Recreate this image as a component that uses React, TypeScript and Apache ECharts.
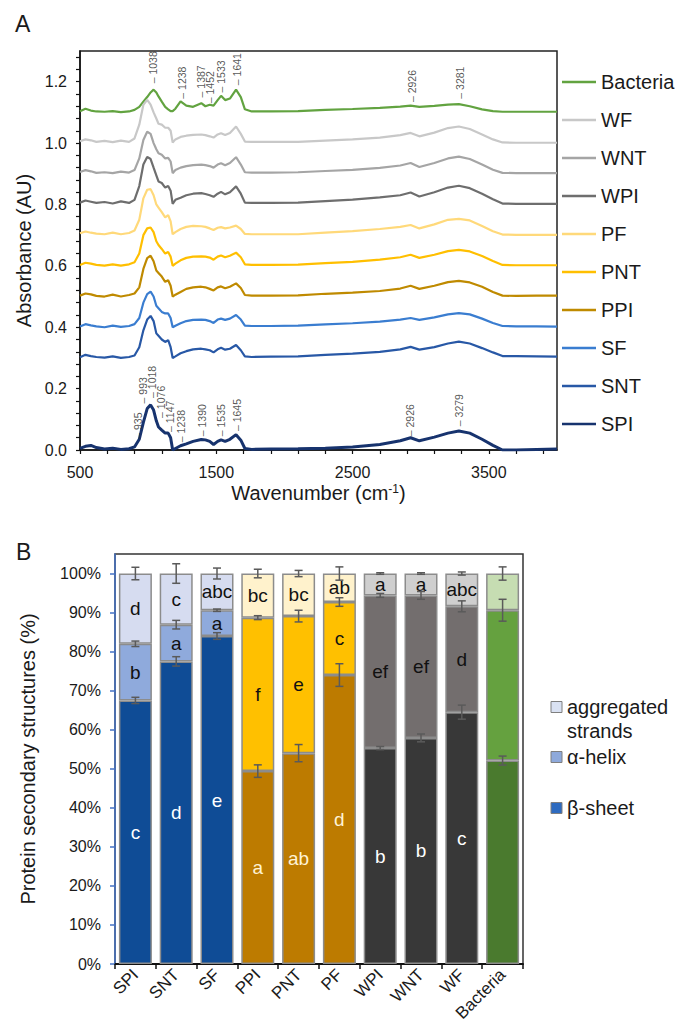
import { useEffect, useRef } from "react";
import * as echarts from "echarts";

// ---------- Panel A: FTIR spectra ----------
const wavenumbers = [500, 540, 580, 620, 680, 740, 800, 860, 900, 935, 965, 993, 1018, 1040, 1060, 1076, 1100, 1125, 1147, 1165, 1180, 1200, 1238, 1280, 1330, 1390, 1420, 1452, 1480, 1510, 1535, 1565, 1600, 1645, 1680, 1710, 1760, 1900, 2100, 2300, 2500, 2700, 2850, 2926, 2990, 3100, 3200, 3280, 3360, 3450, 3530, 3600, 3700, 3850, 4000];

const absSPI = [0.005, 0.012, 0.015, 0.008, 0.003, 0.006, 0.002, 0.004, 0.010, 0.035, 0.090, 0.135, 0.147, 0.130, 0.095, 0.075, 0.065, 0.055, 0.055, 0.040, 0.000, 0.005, 0.014, 0.020, 0.028, 0.034, 0.033, 0.028, 0.018, 0.028, 0.033, 0.028, 0.035, 0.050, 0.032, 0.005, 0.002, 0.003, 0.004, 0.006, 0.010, 0.018, 0.030, 0.040, 0.030, 0.042, 0.055, 0.062, 0.055, 0.035, 0.015, 0.000, 0.000, 0.002, 0.003];
const absSNT = [0.302, 0.310, 0.306, 0.303, 0.301, 0.305, 0.300, 0.303, 0.308, 0.335, 0.390, 0.425, 0.437, 0.420, 0.380, 0.372, 0.360, 0.352, 0.358, 0.335, 0.300, 0.305, 0.315, 0.322, 0.328, 0.330, 0.328, 0.325, 0.318, 0.328, 0.333, 0.327, 0.330, 0.342, 0.325, 0.305, 0.303, 0.304, 0.305, 0.310, 0.314, 0.320, 0.328, 0.336, 0.327, 0.335, 0.347, 0.353, 0.347, 0.332, 0.318, 0.306, 0.306, 0.305, 0.304];
const absSF = [0.402, 0.410, 0.406, 0.403, 0.400, 0.405, 0.401, 0.404, 0.410, 0.430, 0.480, 0.508, 0.516, 0.500, 0.470, 0.462, 0.450, 0.445, 0.445, 0.430, 0.400, 0.405, 0.413, 0.420, 0.424, 0.425, 0.424, 0.420, 0.414, 0.425, 0.428, 0.424, 0.428, 0.440, 0.425, 0.405, 0.404, 0.404, 0.405, 0.409, 0.413, 0.418, 0.425, 0.430, 0.424, 0.432, 0.442, 0.446, 0.442, 0.428, 0.414, 0.404, 0.403, 0.403, 0.402];
const absPPI = [0.503, 0.510, 0.507, 0.502, 0.500, 0.506, 0.500, 0.505, 0.510, 0.530, 0.590, 0.625, 0.633, 0.615, 0.585, 0.577, 0.565, 0.548, 0.553, 0.535, 0.500, 0.506, 0.515, 0.525, 0.530, 0.532, 0.530, 0.525, 0.520, 0.530, 0.533, 0.527, 0.532, 0.543, 0.528, 0.505, 0.503, 0.503, 0.504, 0.509, 0.513, 0.518, 0.526, 0.535, 0.525, 0.535, 0.547, 0.551, 0.546, 0.532, 0.515, 0.503, 0.502, 0.503, 0.503];
const absPNT = [0.603, 0.610, 0.607, 0.603, 0.601, 0.605, 0.601, 0.605, 0.612, 0.640, 0.700, 0.722, 0.725, 0.710, 0.680, 0.668, 0.655, 0.640, 0.645, 0.630, 0.600, 0.607, 0.618, 0.626, 0.630, 0.631, 0.630, 0.627, 0.620, 0.630, 0.634, 0.628, 0.633, 0.643, 0.628, 0.605, 0.603, 0.603, 0.604, 0.609, 0.613, 0.620, 0.628, 0.636, 0.626, 0.636, 0.648, 0.652, 0.647, 0.632, 0.616, 0.603, 0.602, 0.602, 0.602];
const absPF = [0.706, 0.712, 0.708, 0.705, 0.703, 0.708, 0.703, 0.707, 0.715, 0.750, 0.820, 0.848, 0.850, 0.830, 0.800, 0.790, 0.775, 0.758, 0.765, 0.745, 0.703, 0.710, 0.720, 0.727, 0.730, 0.729, 0.727, 0.722, 0.717, 0.724, 0.726, 0.722, 0.725, 0.731, 0.720, 0.704, 0.703, 0.703, 0.703, 0.708, 0.713, 0.720, 0.727, 0.733, 0.722, 0.735, 0.750, 0.753, 0.748, 0.730, 0.713, 0.702, 0.701, 0.701, 0.701];
const absWPI = [0.806, 0.813, 0.809, 0.805, 0.808, 0.803, 0.810, 0.805, 0.815, 0.860, 0.930, 0.955, 0.948, 0.920, 0.895, 0.875, 0.870, 0.855, 0.860, 0.845, 0.802, 0.815, 0.822, 0.830, 0.835, 0.837, 0.834, 0.830, 0.825, 0.835, 0.841, 0.833, 0.840, 0.859, 0.835, 0.806, 0.805, 0.805, 0.806, 0.811, 0.816, 0.823, 0.830, 0.839, 0.826, 0.840, 0.855, 0.861, 0.853, 0.835, 0.817, 0.803, 0.802, 0.802, 0.802];
const absWNT = [0.906, 0.912, 0.908, 0.903, 0.905, 0.902, 0.907, 0.904, 0.912, 0.950, 1.010, 1.037, 1.030, 1.000, 0.980, 0.967, 0.962, 0.950, 0.952, 0.940, 0.902, 0.912, 0.920, 0.925, 0.928, 0.930, 0.928, 0.925, 0.920, 0.930, 0.934, 0.928, 0.935, 0.954, 0.930, 0.905, 0.904, 0.904, 0.905, 0.909, 0.913, 0.919, 0.927, 0.935, 0.922, 0.935, 0.950, 0.956, 0.948, 0.930, 0.913, 0.903, 0.902, 0.902, 0.902];
const absWF = [1.006, 1.012, 1.009, 1.004, 1.007, 1.003, 1.008, 1.004, 1.015, 1.060, 1.125, 1.141, 1.125, 1.100, 1.080, 1.063, 1.060, 1.050, 1.050, 1.040, 1.002, 1.012, 1.020, 1.024, 1.027, 1.028, 1.026, 1.022, 1.018, 1.028, 1.032, 1.026, 1.033, 1.054, 1.030, 1.005, 1.004, 1.004, 1.004, 1.008, 1.012, 1.018, 1.026, 1.033, 1.022, 1.034, 1.049, 1.054, 1.046, 1.028, 1.012, 1.002, 1.001, 1.001, 1.001];
const absBacteria = [1.104, 1.112, 1.106, 1.103, 1.102, 1.104, 1.101, 1.103, 1.108, 1.118, 1.135, 1.150, 1.165, 1.174, 1.165, 1.152, 1.135, 1.118, 1.110, 1.104, 1.104, 1.112, 1.136, 1.122, 1.118, 1.130, 1.120, 1.125, 1.122, 1.140, 1.154, 1.140, 1.145, 1.174, 1.150, 1.110, 1.103, 1.103, 1.104, 1.108, 1.111, 1.115, 1.119, 1.122, 1.118, 1.121, 1.125, 1.127, 1.120, 1.110, 1.104, 1.102, 1.102, 1.102, 1.102];

const spectrumNames = ["Bacteria", "WF", "WNT", "WPI", "PF", "PNT", "PPI", "SF", "SNT", "SPI"];
const spectrumValues = [absBacteria, absWF, absWNT, absWPI, absPF, absPNT, absPPI, absSF, absSNT, absSPI];

// peak annotations (label anchor wavenumber, absorbance, text)
const bacteriaPeakLabels = ["1038", "1238", "1387", "1452", "1533", "1641", "2926", "3281"];
const bacteriaPeakX = [1038, 1246, 1388, 1454, 1534, 1652, 2933, 3288];
const bacteriaPeakY = [1.193, 1.143, 1.147, 1.128, 1.163, 1.187, 1.132, 1.143];
const spiPeakLabels = ["935", "993", "1018", "1076", "1147", "1238", "1390", "1535", "1645", "2926", "3279"];
const spiPeakX = [925, 959, 1026, 1092, 1160, 1241, 1393, 1535, 1652, 2921, 3283];
const spiPeakY = [0.035, 0.150, 0.168, 0.103, 0.057, 0.024, 0.043, 0.043, 0.060, 0.043, 0.076];

const absLabelValues = [0, 0.2, 0.4, 0.6, 0.8, 1.0, 1.2];
const absTickValues = [0, 0.04, 0.08, 0.12, 0.16, 0.2, 0.24, 0.28, 0.32, 0.36, 0.4, 0.44, 0.48, 0.52, 0.56, 0.6, 0.64, 0.68, 0.72, 0.76, 0.8, 0.84, 0.88, 0.92, 0.96, 1.0, 1.04, 1.08, 1.12, 1.16, 1.2, 1.24, 1.28];
const waveLabelValues = [500, 1500, 2500, 3500];
const waveTickValues = [500, 700, 900, 1100, 1300, 1500, 1700, 1900, 2100, 2300, 2500, 2700, 2900, 3100, 3300, 3500, 3700, 3900];

// ---------- Panel B: secondary structures ----------
const categories = ["SPI", "SNT", "SF", "PPI", "PNT", "PF", "WPI", "WNT", "WF", "Bacteria"];
const betaSheet = [67.5, 77.5, 84.0, 49.4, 54.0, 74.0, 55.3, 57.9, 64.5, 52.1];
const alphaHelix = [14.5, 9.4, 6.6, 39.3, 35.1, 18.7, 39.1, 36.5, 27.1, 38.5];
const aggregatedStrands = [18.0, 13.1, 9.4, 11.3, 10.9, 7.3, 5.6, 5.6, 8.4, 9.4];
const betaErr = [0.8, 1.2, 0.85, 1.6, 2.2, 2.9, 0.4, 1.0, 1.8, 1.15];
const alphaErr = [0.7, 1.1, 0.3, 0.5, 1.5, 1.1, 0.5, 1.0, 1.4, 2.8];
const aggErr = [1.6, 2.5, 1.4, 1.1, 0.8, 1.7, 0.2, 0.2, 0.4, 1.7];
const betaLetters = ["c", "d", "e", "a", "ab", "d", "b", "b", "c", ""];
const alphaLetters = ["b", "a", "a", "f", "e", "c", "ef", "ef", "d", ""];
const aggLetters = ["d", "c", "abc", "bc", "bc", "ab", "a", "a", "abc", ""];
const pctLabelValues = [0, 10, 20, 30, 40, 50, 60, 70, 80, 90, 100];

// ---------- styles ----------
const FONT = '"Liberation Sans", Arial, sans-serif';
const TXT = "#1a1a1a";
const lineColors = ["#62A340", "#C8C8C8", "#A5A5A5", "#6E6E6E", "#FFD97A", "#FFBF00", "#BF8A00", "#3A7DD0", "#2858A6", "#17336E"];
const betaColors = ["#0F4C96", "#0F4C96", "#0F4C96", "#BD7B00", "#BD7B00", "#BD7B00", "#383838", "#383838", "#383838", "#4A7A2E"];
const alphaColors = ["#8FAADC", "#8FAADC", "#8FAADC", "#FFC000", "#FFC000", "#FFC000", "#736E6E", "#736E6E", "#736E6E", "#65A13F"];
const aggColors = ["#D6DCF0", "#D6DCF0", "#D6DCF0", "#FFF2CC", "#FFF2CC", "#FFF2CC", "#CFCFCF", "#CFCFCF", "#CFCFCF", "#C6DDB2"];
const betaLabelColors = ["#ffffff", "#ffffff", "#ffffff", "#FFF3D6", "#FFF3D6", "#FFF3D6", "#ffffff", "#ffffff", "#ffffff", "#ffffff"];

export default function App() {
  const ref = useRef<HTMLDivElement>(null);
  useEffect(() => {
    const chart = echarts.init(ref.current!, null, { renderer: "svg" });

    const lineSeries = spectrumNames.map((name, k) => ({
      type: "line",
      name,
      xAxisIndex: 0,
      yAxisIndex: 0,
      symbol: "none",
      smooth: false,
      z: 2 + k,
      lineStyle: { color: lineColors[k], width: name === "SPI" ? 3 : 2.2 },
      itemStyle: { color: lineColors[k] },
      data: wavenumbers.map((w, i) => [w, spectrumValues[k][i]]),
    }));

    const annoLabel = {
      show: true,
      position: "top",
      distance: 0,
      rotate: 90,
      align: "left",
      verticalAlign: "middle",
      fontSize: 10.5,
      fontFamily: FONT,
      color: "#2a2a2a",
      formatter: (p: any) => "– " + p.value[2],
    };
    const annoSeries = [bacteriaPeakLabels.map((t, i) => [bacteriaPeakX[i], bacteriaPeakY[i], t]), spiPeakLabels.map((t, i) => [spiPeakX[i], spiPeakY[i], t])].map((data) => ({
      type: "scatter",
      xAxisIndex: 0,
      yAxisIndex: 0,
      symbol: "circle",
      symbolSize: 1,
      itemStyle: { color: "rgba(0,0,0,0)" },
      silent: true,
      z: 20,
      label: annoLabel,
      labelLayout: { hideOverlap: false },
      data,
    }));

    const segs = [
      { name: "β-sheet", values: betaSheet, colors: betaColors, letters: betaLetters, labelColors: betaLabelColors },
      { name: "α-helix", values: alphaHelix, colors: alphaColors, letters: alphaLetters, labelColors: null },
      { name: "aggregated strands", values: aggregatedStrands, colors: aggColors, letters: aggLetters, labelColors: null },
    ];
    const barSeries = segs.map((s) => ({
      type: "bar",
      name: s.name,
      xAxisIndex: 1,
      yAxisIndex: 1,
      stack: "structure",
      barWidth: 33,
      itemStyle: { borderColor: "#8C8C8C", borderWidth: 1.5 },
      label: {
        show: true,
        position: "inside",
        fontSize: 19,
        fontFamily: FONT,
        color: "#111",
        formatter: (p: any) => s.letters[p.dataIndex],
      },
      data: s.values.map((v, i) => ({
        value: v,
        itemStyle: { color: s.colors[i] },
        label: { color: s.labelColors ? s.labelColors[i] : "#111" },
      })),
    }));

    const errData: number[][] = [];
    categories.forEach((_, i) => {
      const bTop = betaSheet[i];
      const aTop = betaSheet[i] + alphaHelix[i];
      const gTop = aTop + aggregatedStrands[i];
      errData.push([i, bTop, betaErr[i]]);
      errData.push([i, aTop, alphaErr[i]]);
      errData.push([i, gTop, aggErr[i]]);
    });
    const errSeries = {
      type: "custom",
      xAxisIndex: 1,
      yAxisIndex: 1,
      z: 10,
      silent: true,
      encode: { x: 0, y: 1 },
      data: errData,
      renderItem: (params: any, api: any) => {
        const x = api.value(0);
        const y = api.value(1);
        const e = api.value(2);
        const hi = api.coord([x, y + e]);
        const lo = api.coord([x, y - e]);
        const cx = hi[0];
        const w = 4;
        const style = { stroke: "#5A5A5A", lineWidth: 1.5 };
        return {
          type: "group",
          children: [
            { type: "line", shape: { x1: cx, y1: hi[1], x2: cx, y2: lo[1] }, style },
            { type: "line", shape: { x1: cx - w, y1: hi[1], x2: cx + w, y2: hi[1] }, style },
            { type: "line", shape: { x1: cx - w, y1: lo[1], x2: cx + w, y2: lo[1] }, style },
          ],
        };
      },
    };

    const legendFont = `20px ${FONT}`;
    const option: any = {
      animation: false,
      backgroundColor: "#ffffff",
      textStyle: { fontFamily: FONT, color: TXT },
      grid: [
        { left: 80, top: 51, width: 477, height: 399, show: true, borderColor: "#222", borderWidth: 1.5, backgroundColor: "transparent", containLabel: false, outerBoundsMode: "none" },
        { left: 115, top: 554, width: 408, height: 410, show: true, borderColor: "#333", borderWidth: 1.5, backgroundColor: "transparent", containLabel: false, outerBoundsMode: "none" },
      ],
      xAxis: [
        {
          gridIndex: 0,
          type: "value",
          min: 500,
          max: 4000,
          name: "Wavenumber (cm{sup|-1})",
          nameLocation: "middle",
          nameGap: 33,
          nameTextStyle: {
            fontSize: 20,
            color: TXT,
            fontFamily: FONT,
            rich: { sup: { fontSize: 12, verticalAlign: "top", lineHeight: 12, color: TXT, fontFamily: FONT } },
          },
          axisLine: { lineStyle: { color: "#111", width: 1.5 } },
          axisTick: { show: true, length: 4, customValues: waveTickValues, lineStyle: { color: "#111", width: 1.2 } },
          axisLabel: { customValues: waveLabelValues, fontSize: 16, color: TXT, margin: 14, fontFamily: FONT, formatter: (v: number) => String(v) },
          splitLine: { show: false },
        },
        {
          gridIndex: 1,
          type: "category",
          data: categories,
          axisLine: { lineStyle: { color: "#111", width: 1.8 } },
          axisTick: { show: true, length: 5, lineStyle: { color: "#111", width: 1.5 } },
          axisLabel: { rotate: 45, fontSize: 17, color: TXT, margin: 8, fontFamily: FONT, interval: 0 },
          splitLine: { show: false },
        },
      ],
      yAxis: [
        {
          gridIndex: 0,
          type: "value",
          min: 0,
          max: 1.3,
          name: "Absorbance (AU)",
          nameLocation: "middle",
          nameGap: 45,
          nameTextStyle: { fontSize: 20, color: TXT, fontFamily: FONT },
          axisLine: { show: true, lineStyle: { color: "#111", width: 1.5 } },
          axisTick: { show: true, length: 4, customValues: absTickValues, lineStyle: { color: "#111", width: 1.2 } },
          axisLabel: {
            customValues: absLabelValues,
            fontSize: 16,
            color: TXT,
            margin: 13,
            fontFamily: FONT,
            formatter: (v: number) => v.toFixed(1),
          },
          splitLine: { show: false },
        },
        {
          gridIndex: 1,
          type: "value",
          min: 0,
          max: 105,
          name: "Protein secondary structures (%)",
          nameLocation: "middle",
          nameGap: 77,
          nameTextStyle: { fontSize: 20, color: TXT, fontFamily: FONT },
          axisLine: { show: true, lineStyle: { color: "#4472C4", width: 1.5 } },
          axisTick: { show: true, length: 5, customValues: pctLabelValues, lineStyle: { color: "#4472C4", width: 1.5 } },
          axisLabel: {
            customValues: pctLabelValues,
            fontSize: 16,
            color: TXT,
            margin: 14,
            fontFamily: FONT,
            formatter: (v: number) => v + "%",
          },
          splitLine: { show: false },
        },
      ],
      legend: [
        {
          data: spectrumNames.map((n) => ({ name: n, icon: "rect" })),
          orient: "vertical",
          left: 562,
          top: 71,
          padding: 0,
          itemWidth: 34,
          itemHeight: 2.5,
          itemGap: 16,
          selectedMode: false,
          textStyle: { fontSize: 20, lineHeight: 22, color: TXT, fontFamily: FONT },
        },
      ],
      graphic: [
        { type: "text", left: 15, top: 12, style: { text: "A", font: `23px ${FONT}`, fill: TXT } },
        { type: "text", left: 16, top: 540, style: { text: "B", font: `23px ${FONT}`, fill: TXT } },
        { type: "rect", shape: { x: 551, y: 701.5, width: 11, height: 11 }, style: { fill: "#D9E1F2", stroke: "#7F7F7F", lineWidth: 1 } },
        { type: "text", x: 567, y: 707, style: { text: "aggregated", font: legendFont, fill: TXT, verticalAlign: "middle", textVerticalAlign: "middle" } },
        { type: "text", x: 567, y: 731, style: { text: "strands", font: legendFont, fill: TXT, verticalAlign: "middle", textVerticalAlign: "middle" } },
        { type: "rect", shape: { x: 551, y: 751.5, width: 11, height: 11 }, style: { fill: "#8EA9DB", stroke: "#7F7F7F", lineWidth: 1 } },
        { type: "text", x: 567, y: 757, style: { text: "α-helix", font: legendFont, fill: TXT, verticalAlign: "middle", textVerticalAlign: "middle" } },
        { type: "rect", shape: { x: 551, y: 802.5, width: 11, height: 11 }, style: { fill: "#2E6BC0", stroke: "#7F7F7F", lineWidth: 1 } },
        { type: "text", x: 567, y: 808, style: { text: "β-sheet", font: legendFont, fill: TXT, verticalAlign: "middle", textVerticalAlign: "middle" } },
      ],
      series: [...lineSeries, ...annoSeries, ...barSeries, errSeries],
    };

    chart.setOption(option);
    return () => chart.dispose();
  }, []);

  return <div ref={ref} style={{ position: "absolute", left: 0, top: 0, width: 686, height: 1027 }} />;
}
